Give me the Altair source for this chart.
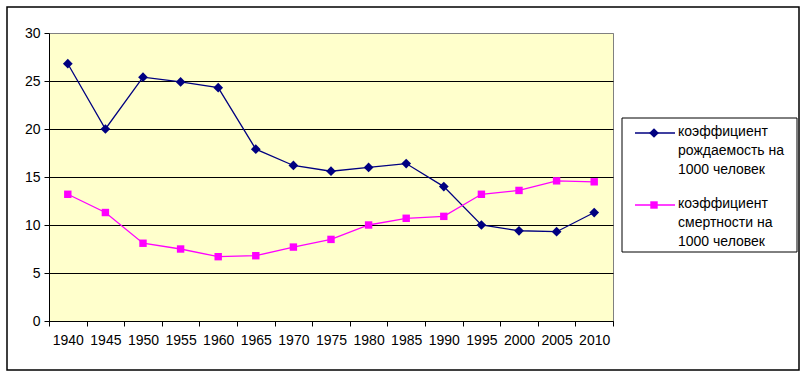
import altair as alt
import pandas as pd

years = ["1940", "1945", "1950", "1955", "1960", "1965", "1970", "1975",
         "1980", "1985", "1990", "1995", "2000", "2005", "2010"]
birth = [26.8, 20.0, 25.4, 24.9, 24.3, 17.9, 16.2, 15.6, 16.0, 16.4, 14.0, 10.0, 9.4, 9.3, 11.3]
death = [13.2, 11.3, 8.1, 7.5, 6.7, 6.8, 7.7, 8.5, 10.0, 10.7, 10.9, 13.2, 13.6, 14.6, 14.5]
series_names = ["коэффициент рождаемость на 1000 человек",
                "коэффициент смертности на 1000 человек"]
legend_lines = [["коэффициент", "рождаемость на", "1000 человек"],
                ["коэффициент", "смертности на", "1000 человек"]]
colors = ["#000080", "#FF00FF"]
shapes = ["diamond", "square"]
sizes = [95, 55]
y_ticks = [0, 5, 10, 15, 20, 25, 30]

FONT = "Liberation Sans"

rows = []
for y, b, d in zip(years, birth, death):
    rows.append({"year": y, "value": b, "series": series_names[0]})
    rows.append({"year": y, "value": d, "series": series_names[1]})
df = pd.DataFrame(rows)

W, H = 564, 288

x_enc = alt.X("year:O", sort=years, bandPosition=0.5,
              scale=alt.Scale(type="band", paddingInner=0, paddingOuter=0),
              axis=alt.Axis(title=None, labelAngle=0, tickBand="extent", tickSize=5,
                            tickColor="black", domainColor="black", labelColor="black",
                            labelFont=FONT, labelFontSize=14, labelPadding=7, grid=False))
y_enc = alt.Y("value:Q", scale=alt.Scale(domain=[0, 30], nice=False),
              axis=alt.Axis(title=None, values=y_ticks, tickSize=5, tickColor="black",
                            domainColor="black", labelColor="black", labelFont=FONT,
                            labelFontSize=14, labelPadding=4, grid=True,
                            gridColor={"condition": {"test": "datum.value === 30", "value": "#808080"},
                                       "value": "black"}))
color_enc = alt.Color("series:N", scale=alt.Scale(domain=series_names, range=colors), legend=None)
shape_enc = alt.Shape("series:N", scale=alt.Scale(domain=series_names, range=shapes), legend=None)
size_enc = alt.Size("series:N", scale=alt.Scale(domain=series_names, range=sizes), legend=None)

base = alt.Chart(df)
lines = base.mark_line(strokeWidth=1.3).encode(x=x_enc, y=y_enc, color=color_enc)
points = base.mark_point(filled=True, opacity=1).encode(
    x=x_enc, y=y_enc, color=color_enc, shape=shape_enc, size=size_enc)

one = alt.Data(values=[{"k": 1}])
frame = alt.Chart(one).mark_rect(fill="white", fillOpacity=0, stroke="black", strokeWidth=1.5).encode(
    x=alt.value(-42), x2=alt.value(750), y=alt.value(-26), y2=alt.value(337))
legend_box = alt.Chart(one).mark_rect(fill="white", stroke="black", strokeWidth=1).encode(
    x=alt.value(573), x2=alt.value(748), y=alt.value(85), y2=alt.value(219))

legend_layers = [legend_box]
sym_y = [100, 172]
for i in range(2):
    legend_layers.append(alt.Chart(one).mark_rule(color=colors[i], strokeWidth=1.3).encode(
        x=alt.value(586), x2=alt.value(626), y=alt.value(sym_y[i])))
    legend_layers.append(alt.Chart(one).mark_point(filled=True, opacity=1, size=sizes[i],
                                                   shape=shapes[i], color=colors[i]).encode(
        x=alt.value(605), y=alt.value(sym_y[i])))
    legend_layers.append(alt.Chart(one).mark_text(align="left", baseline="top", font=FONT,
                                                  fontSize=14, lineHeight=19, color="black").encode(
        x=alt.value(629), y=alt.value(sym_y[i] - 8), text=alt.value(legend_lines[i])))

chart = alt.layer(frame, lines, points, *legend_layers).properties(
    width=W, height=H,
    padding={"left": 49, "top": 33, "right": 807 - 49 - W, "bottom": 377 - 33 - H},
    autosize=alt.AutoSizeParams(type="none"),
    background="white",
).configure_view(fill="#FFFFCC", stroke="#808080", strokeWidth=1)

chart.save("out.html", embed_options={"renderer": "svg", "actions": False})
